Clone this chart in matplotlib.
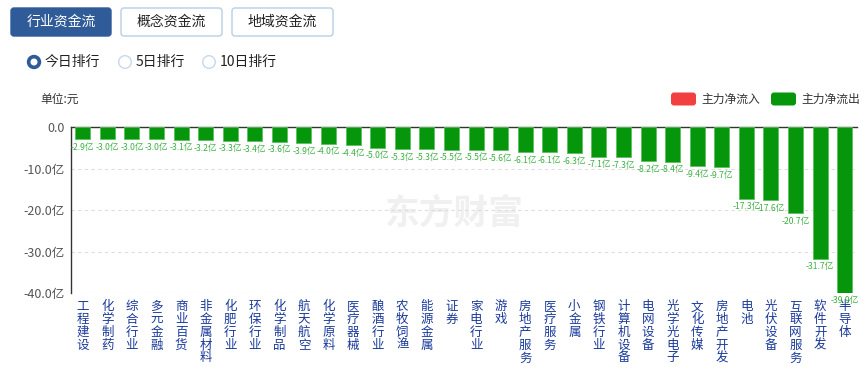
import matplotlib
matplotlib.use("Agg")
import matplotlib.pyplot as plt
from matplotlib.patches import FancyBboxPatch, Circle

plt.rcParams['font.family'] = ['Noto Sans CJK SC', 'DejaVu Sans']

categories = ["工程建设", "化学制药", "综合行业", "多元金融", "商业百货", "非金属材料",
              "化肥行业", "环保行业", "化学制品", "航天航空", "化学原料", "医疗器械",
              "酿酒行业", "农牧饲渔", "能源金属", "证券", "家电行业", "游戏",
              "房地产服务", "医疗服务", "小金属", "钢铁行业", "计算机设备", "电网设备",
              "光学光电子", "文化传媒", "房地产开发", "电池", "光伏设备", "互联网服务",
              "软件开发", "半导体"]
values = [-2.9, -3.0, -3.0, -3.0, -3.1, -3.2, -3.3, -3.4, -3.6, -3.9, -4.0, -4.4,
          -5.0, -5.3, -5.3, -5.5, -5.5, -5.6, -6.1, -6.1, -6.3, -7.1, -7.3, -8.2,
          -8.4, -9.4, -9.7, -17.3, -17.6, -20.7, -31.7, -39.9]
yticks = [0, -10, -20, -30, -40]
ytick_labels = ["0.0", "-10.0亿", "-20.0亿", "-30.0亿", "-40.0亿"]
tabs = ["行业资金流", "概念资金流", "地域资金流"]
radios = ["今日排行", "5日排行", "10日排行"]
legend_labels = ["主力净流入", "主力净流出"]

W, H = 864, 371
fig = plt.figure(figsize=(W / 100, H / 100), dpi=100)

# overlay in pixel coordinates
ov = fig.add_axes([0, 0, 1, 1], zorder=0)
ov.set_xlim(0, W)
ov.set_ylim(H, 0)
ov.axis('off')

# watermark
ov.text(454, 213, "东方财富", fontsize=25, fontweight='bold', color='#f0f0f0',
        ha='center', va='center')

# tabs
tab_x = [(11, 111), (121, 222), (232, 333)]
for i, (t, (x0, x1)) in enumerate(zip(tabs, tab_x)):
    if i == 0:
        fc, ec, tc = '#2f5b98', '#2f5b98', 'white'
    else:
        fc, ec, tc = 'white', '#b8cfe6', '#222222'
    ov.add_patch(FancyBboxPatch((x0, 8), x1 - x0, 28,
                                boxstyle="round,pad=0,rounding_size=3",
                                fc=fc, ec=ec, lw=1))
    ov.text((x0 + x1) / 2, 22, t, color=tc, fontsize=10, ha='center', va='center')

# radio buttons
radio_x = [34, 125, 209]
for i, (r, x) in enumerate(zip(radios, radio_x)):
    if i == 0:
        ov.add_patch(Circle((x, 62), 6.5, fc='#2f5b98', ec='#2f5b98'))
        ov.add_patch(Circle((x, 62), 2.8, fc='white', ec='white'))
    else:
        ov.add_patch(Circle((x, 62), 6.3, fc='white', ec='#c8d8ea', lw=1))
    ov.text(x + 11, 62, r, fontsize=10, color='#222222', ha='left', va='center')

# unit
ov.text(40, 99, "单位:元", fontsize=8.5, color='#333333', ha='left', va='center')

# legend
leg = [(671, '#f23f3f'), (771, '#06960b')]
for (x, c), lab in zip(leg, legend_labels):
    ov.add_patch(FancyBboxPatch((x, 92.5), 25, 13,
                                boxstyle="round,pad=0,rounding_size=3",
                                fc=c, ec='none'))
    ov.text(x + 30, 99, lab, fontsize=8.5, color='#333333', ha='left', va='center')

# main axes
left, right, top, bottom = 70.5, 857, 127, 293.3
ax = fig.add_axes([left / W, (H - bottom) / H, (right - left) / W, (bottom - top) / H],
                  zorder=1)
ax.patch.set_alpha(0)
x = list(range(len(categories)))
ax.bar(x, values, width=0.61, color='#06960b', edgecolor='#5cc05f', linewidth=0.6,
       zorder=3)
ax.set_xlim(-0.5, len(categories) - 0.5)
ax.set_ylim(-40, 0)
ax.set_yticks(yticks)
ax.set_yticklabels(ytick_labels, fontsize=9, color='#555555')
ax.tick_params(axis='y', length=0, pad=4)
ax.set_xticks([])
for s in ['right', 'bottom']:
    ax.spines[s].set_visible(False)
ax.spines['left'].set_color('#333333')
ax.spines['top'].set_color('#333333')
ax.spines['left'].set_linewidth(1)
ax.spines['top'].set_linewidth(1)
for yv in yticks[1:]:
    ax.axhline(yv, color='#dddddd', lw=0.8, ls=(0, (3, 3)), zorder=1)

for xi, v in zip(x, values):
    ax.annotate(f"{v:.1f}亿", (xi, v), xytext=(0, -2.5), textcoords='offset points',
                ha='center', va='top', fontsize=6.2, color='#3cb043', zorder=4)

# vertical category labels
for xi, c in zip(x, categories):
    ax.annotate("\n".join(c), (xi, -40), xytext=(0, -5), textcoords='offset points',
                ha='center', va='top', fontsize=9, color='#1a3a9a', linespacing=0.98,
                annotation_clip=False)

fig.savefig("out.png", dpi=100)
